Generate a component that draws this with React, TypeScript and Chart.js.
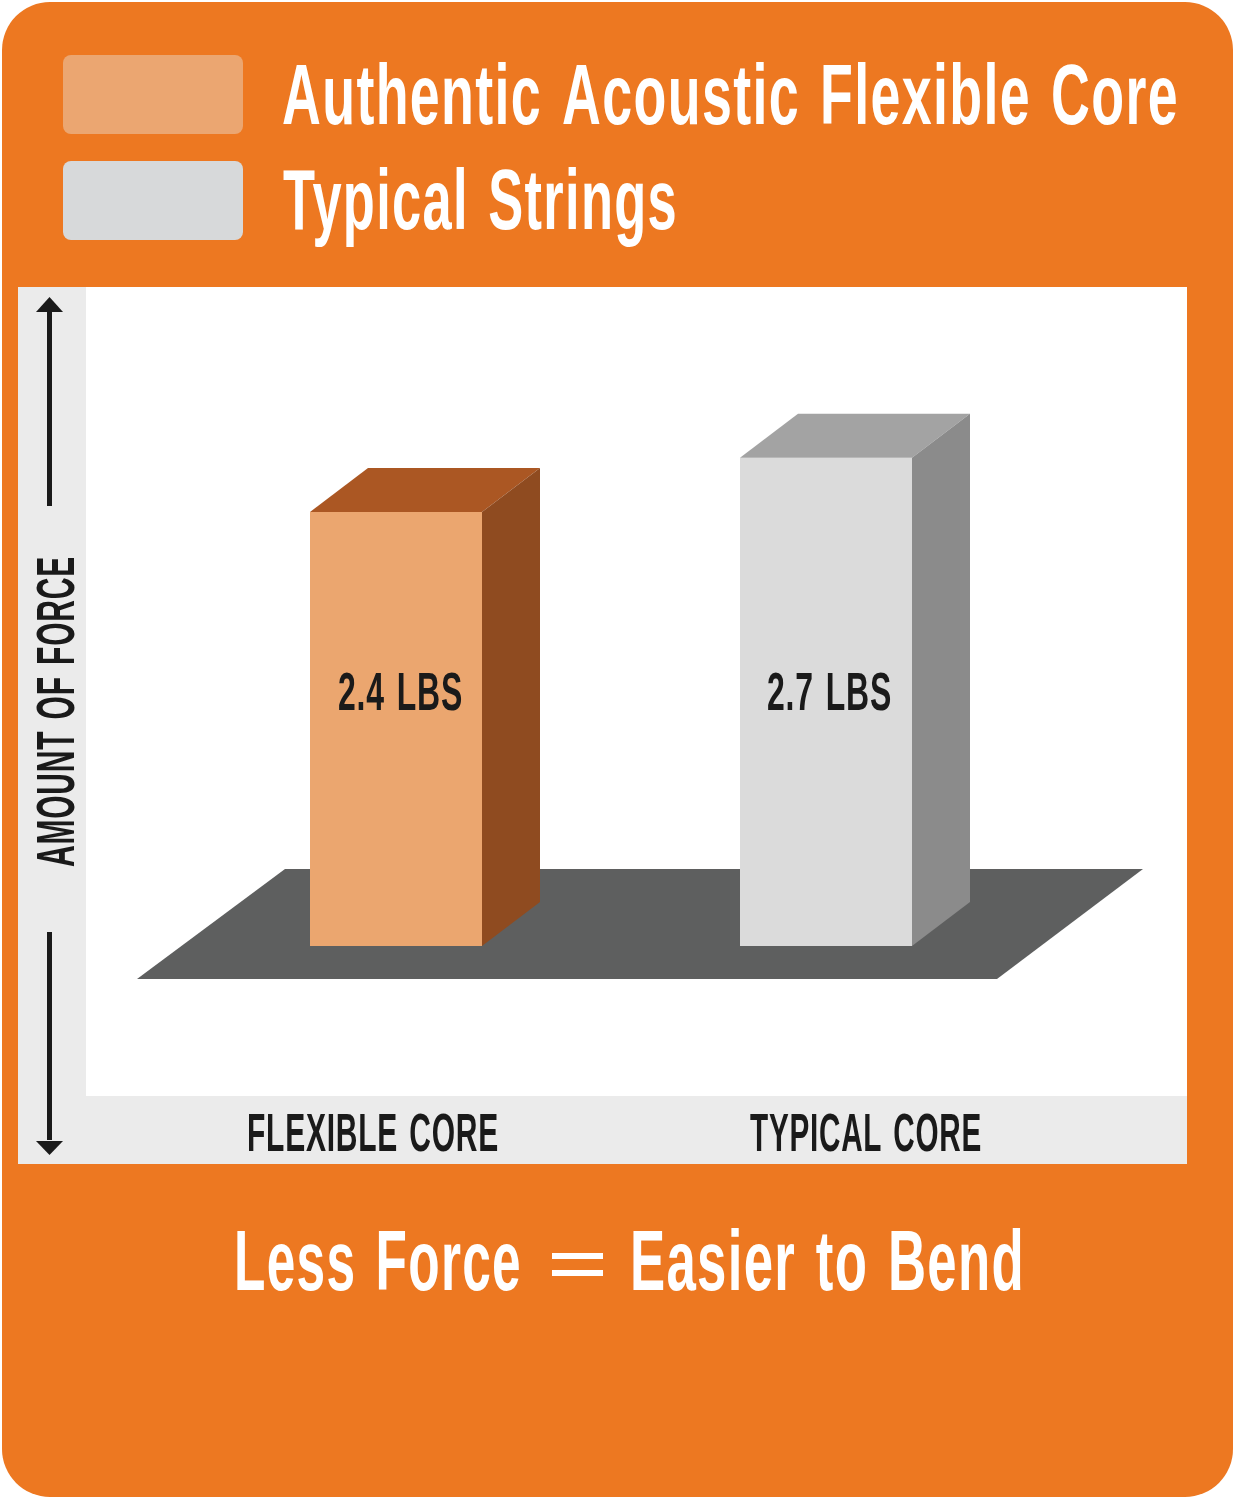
import { useEffect, useRef } from 'react';
import Chart from 'chart.js/auto';

const categories = ['FLEXIBLE CORE', 'TYPICAL CORE'];
const seriesNames = ['Authentic Acoustic Flexible Core', 'Typical Strings'];
const flexibleForce = [2.4, null];
const typicalForce = [null, 2.7];
const unit = 'LBS';
const yAxisTitle = 'AMOUNT OF FORCE';
const footerLeft = 'Less Force';
const footerRight = 'Easier to Bend';

const ORANGE = '#ed7821';
const PANEL = '#ebebeb';
const INK = '#1a1a1a';
const FRONT = ['#eba66f', '#dbdbdb'];
const SWATCH = ['#eba671', '#d7d9da'];
const TOP = ['#ab5723', '#a3a3a3'];
const SIDE = ['#8f4b20', '#8b8b8b'];
const DEPTH_X = 58;
const DEPTH_Y = 44;
const FONT = '"Liberation Sans Narrow", "Liberation Sans", sans-serif';

// squeezes text to the width measured off the reference, no condensed display face here
function fitText(
  ctx: CanvasRenderingContext2D,
  text: string,
  x: number,
  baseline: number,
  width: number,
  size: number,
  color: string,
  angle = 0,
) {
  ctx.save();
  ctx.font = `bold ${size}px ${FONT}`;
  ctx.fillStyle = color;
  ctx.textAlign = 'left';
  ctx.textBaseline = 'alphabetic';
  (ctx as any).letterSpacing = `${size * 0.025}px`;
  (ctx as any).wordSpacing = `${size * 0.07}px`;
  const measured = ctx.measureText(text).width;
  ctx.translate(x, baseline);
  if (angle) ctx.rotate(angle);
  ctx.scale(width / measured, 1);
  ctx.fillText(text, 0, 0);
  ctx.restore();
}

function poly(ctx: CanvasRenderingContext2D, pts: number[][], color: string) {
  ctx.fillStyle = color;
  ctx.beginPath();
  pts.forEach(([x, y], i) => (i ? ctx.lineTo(x, y) : ctx.moveTo(x, y)));
  ctx.closePath();
  ctx.fill();
}

const backdrop = {
  id: 'backdrop',
  beforeDatasetsDraw(chart: Chart) {
    const { ctx } = chart;
    ctx.save();
    ctx.fillStyle = '#ffffff';
    ctx.fillRect(0, 0, 1237, 1500);

    ctx.fillStyle = ORANGE;
    ctx.beginPath();
    ctx.roundRect(2, 2, 1231, 1495, 48);
    ctx.fill();

    // legend
    seriesNames.forEach((_, i) => {
      ctx.fillStyle = SWATCH[i];
      ctx.beginPath();
      ctx.roundRect(63, i ? 161 : 55, 180, 79, 8);
      ctx.fill();
    });
    fitText(ctx, seriesNames[0], 282, 124, 897, 86, '#ffffff');
    fitText(ctx, seriesNames[1], 283, 229, 395, 86, '#ffffff');

    // plot panel
    ctx.fillStyle = PANEL;
    ctx.fillRect(18, 287, 1169, 877);
    ctx.fillStyle = '#ffffff';
    ctx.fillRect(86, 287, 1101, 809);

    // floor
    poly(ctx, [[137, 979], [997, 979], [1143, 869], [285, 869]], '#5e5f5f');

    // force arrows
    ctx.fillStyle = INK;
    ctx.fillRect(47, 312, 5, 194);
    ctx.fillRect(47, 932, 5, 208);
    poly(ctx, [[49.5, 297], [63, 312], [36, 312]], INK);
    poly(ctx, [[49.5, 1155], [63, 1141], [36, 1141]], INK);

    fitText(ctx, yAxisTitle, 74, 867, 311, 54, INK, -Math.PI / 2);
    fitText(ctx, categories[0], 247, 1151, 252, 54, INK);
    fitText(ctx, categories[1], 750, 1151, 232, 54, INK);

    fitText(ctx, footerLeft, 234, 1290, 288, 86, '#ffffff');
    ctx.fillStyle = '#ffffff';
    ctx.fillRect(552, 1253, 51, 6);
    ctx.fillRect(552, 1270, 51, 6);
    fitText(ctx, footerRight, 630, 1290, 395, 86, '#ffffff');
    ctx.restore();
  },
  afterDatasetsDraw(chart: Chart) {
    const { ctx } = chart;
    const valueX = [338, 767];
    const valueW = [125, 125];
    ctx.save();
    chart.data.datasets.forEach((ds, i) => {
      const index = ds.data.findIndex((v) => v !== null);
      const bar: any = chart.getDatasetMeta(i).data[index];
      const left = bar.x - bar.width / 2;
      const right = bar.x + bar.width / 2;
      // extruded faces hang off the bar element
      poly(ctx, [[left, bar.y], [left + DEPTH_X, bar.y - DEPTH_Y], [right + DEPTH_X, bar.y - DEPTH_Y], [right, bar.y]], TOP[i]);
      poly(ctx, [[right, bar.y], [right + DEPTH_X, bar.y - DEPTH_Y], [right + DEPTH_X, bar.base - DEPTH_Y], [right, bar.base]], SIDE[i]);
      fitText(ctx, `${ds.data[index]} ${unit}`, valueX[i], 710, valueW[i], 54, INK);
    });
    ctx.restore();
  },
};

export default function App() {
  const chartRef = useRef<HTMLCanvasElement>(null);

  useEffect(() => {
    if (!chartRef.current) return;

    const chart = new Chart(chartRef.current, {
      type: 'bar',
      data: {
        labels: categories,
        datasets: [
          { label: seriesNames[0], data: flexibleForce, backgroundColor: FRONT[0] },
          { label: seriesNames[1], data: typicalForce, backgroundColor: FRONT[1] },
        ],
      },
      options: {
        responsive: false,
        animation: false,
        devicePixelRatio: 1,
        grouped: false,
        barPercentage: 0.4,
        categoryPercentage: 1,
        layout: { padding: { left: 181, right: 196, top: 287, bottom: 554 } },
        plugins: { legend: { display: false }, tooltip: { enabled: false } },
        scales: {
          x: { display: false },
          y: { display: false, min: 0, max: 3.645 },
        },
      } as any,
      plugins: [backdrop],
    });

    return () => chart.destroy();
  }, []);

  return (
    <div style={{ position: 'absolute', left: 0, top: 0, width: 1237, height: 1500 }}>
      <canvas ref={chartRef} width={1237} height={1500} style={{ display: 'block' }}></canvas>
    </div>
  );
}
